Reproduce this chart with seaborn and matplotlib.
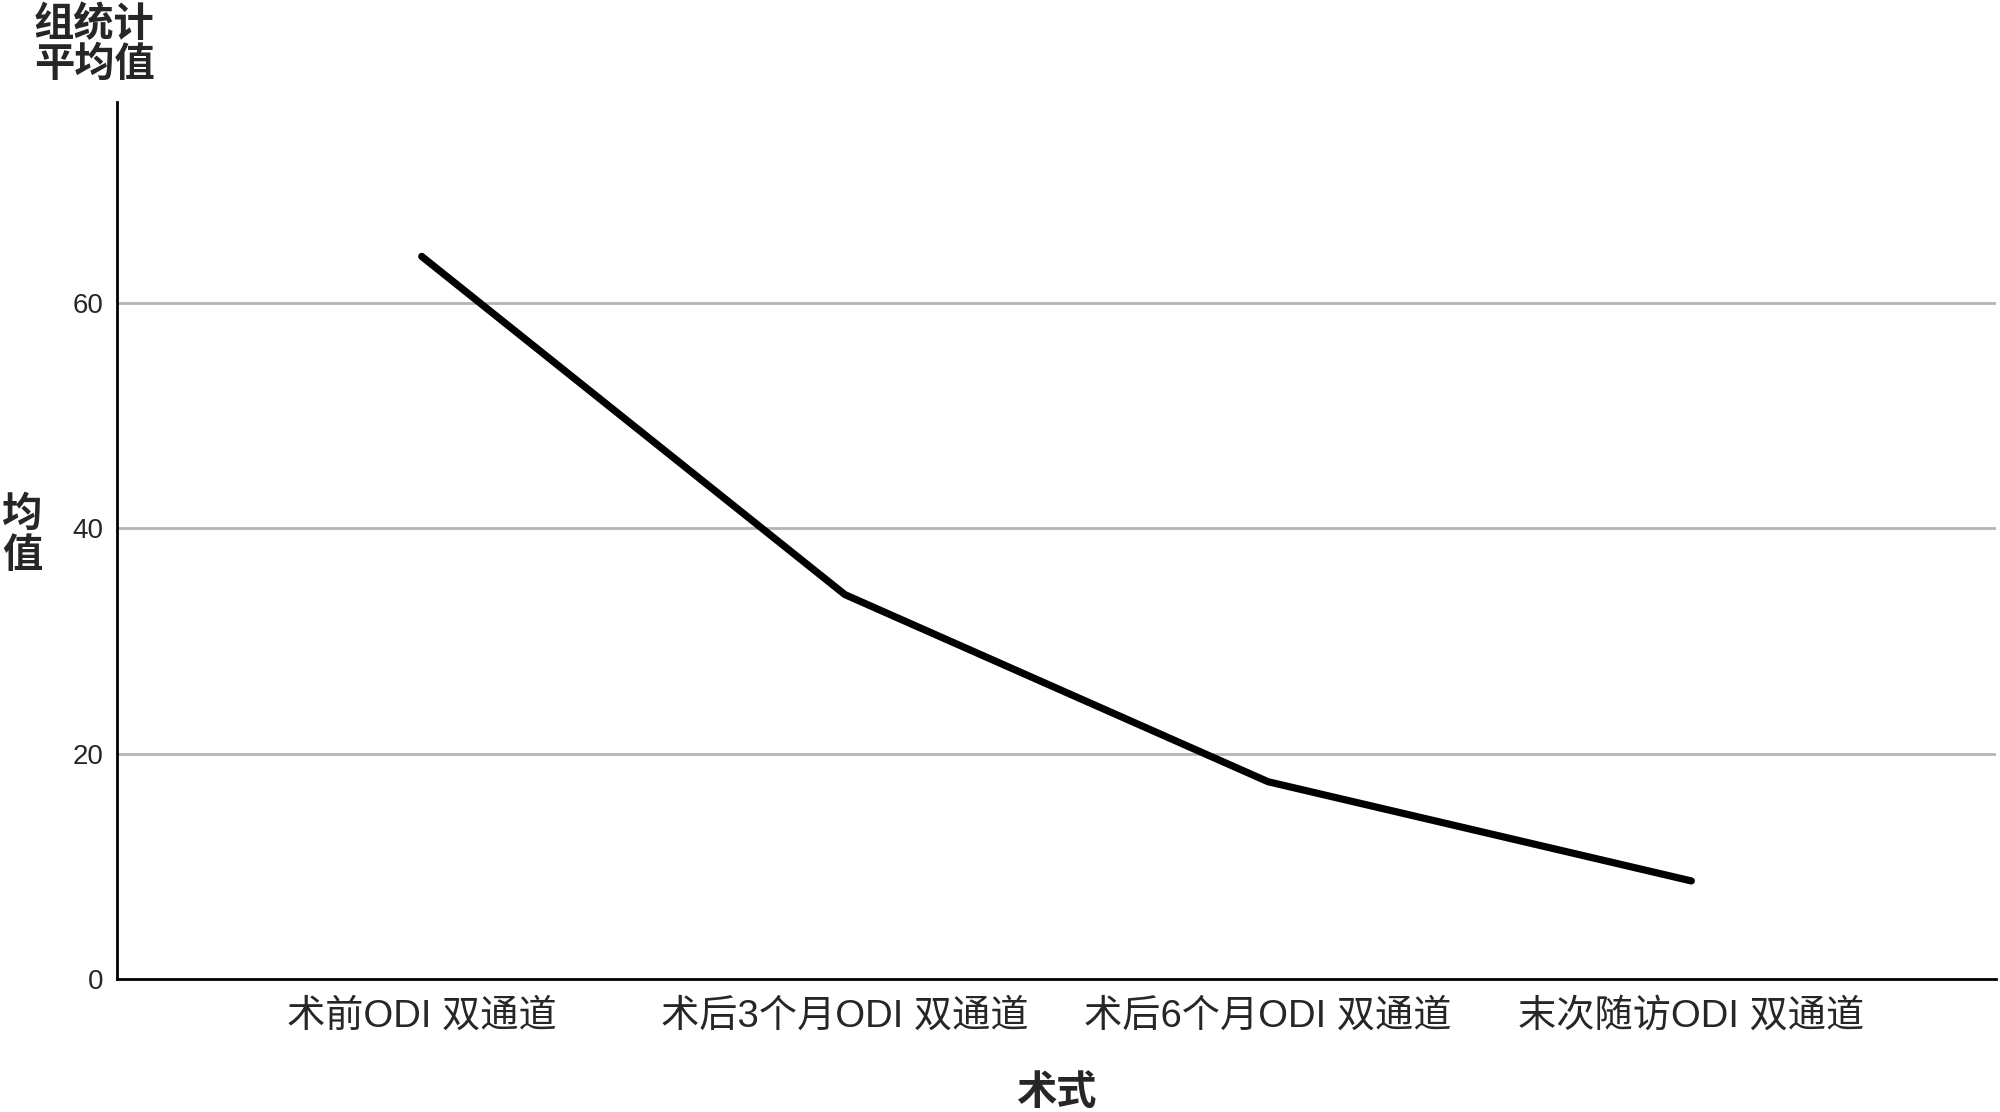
import matplotlib
matplotlib.use("Agg")
import matplotlib.pyplot as plt
import seaborn as sns
import pandas as pd

categories = ["术前ODI 双通道", "术后3个月ODI 双通道", "术后6个月ODI 双通道", "末次随访ODI 双通道"]
means = [64.1, 34.1, 17.5, 8.7]
yticks = [0, 20, 40, 60]

sns.set_theme(style="white")
plt.rcParams['font.family'] = ['Liberation Sans', 'Noto Sans CJK SC', 'DejaVu Sans']

df = pd.DataFrame({"cat": categories, "mean": means})

fig = plt.figure(figsize=(20, 11.12), dpi=100)
ax = fig.add_axes([0.0585, 0.1196, 0.9395, 0.7887])

sns.lineplot(data=df, x="cat", y="mean", ax=ax, color="black", linewidth=5.2, sort=False)

ax.set_xlim(-0.72, 3.72)
ax.set_ylim(0, 77.8)
ax.set_yticks(yticks)
ax.set_yticklabels([str(v) for v in yticks], fontsize=20)
ax.tick_params(axis='both', length=0)
ax.tick_params(axis='y', pad=10)
ax.tick_params(axis='x', pad=14)
for lab in ax.get_xticklabels():
    lab.set_fontsize(27.5)
for g in [20, 40, 60]:
    ax.axhline(g, color="#b4b4b4", linewidth=2, zorder=0)

for s in ["top", "right"]:
    ax.spines[s].set_visible(False)
for s in ["left", "bottom"]:
    ax.spines[s].set_color("black")
    ax.spines[s].set_linewidth(2)

ax.set_xlabel("")
ax.set_ylabel("")
fig.text(0.528, 0.0175, "术式", fontsize=29, fontweight="bold", ha="center", va="center")
fig.text(0.011, 0.519, "均\n值", fontsize=29, fontweight="bold", ha="center", va="center", linespacing=1.1)
fig.text(0.017, 0.995, "组统计\n平均值", fontsize=29, fontweight="bold", ha="left", va="top", linespacing=1.05)

fig.savefig("out.png", dpi=100, facecolor="white")
